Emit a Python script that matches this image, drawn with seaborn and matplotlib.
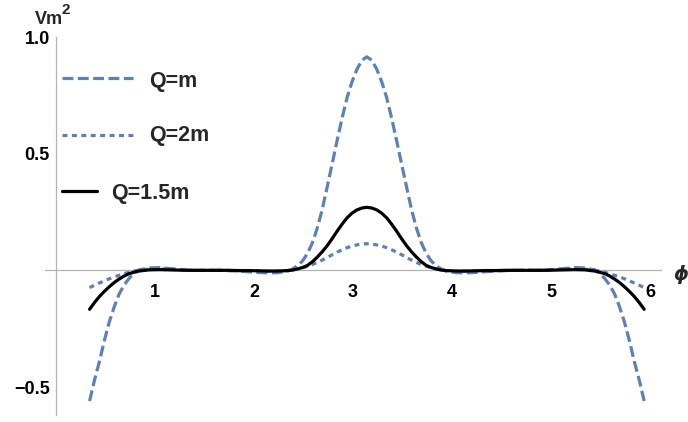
import matplotlib
matplotlib.use("Agg")
import matplotlib.pyplot as plt
from matplotlib.lines import Line2D
from matplotlib.ticker import FixedLocator, MultipleLocator
import numpy as np
import pandas as pd
import seaborn as sns

# ---------------- data ----------------
phi = [0.34, 0.39, 0.44, 0.49, 0.54, 0.59, 0.64, 0.69, 0.74, 0.79, 0.84,
       0.94, 1.04, 1.14, 1.24, 1.34, 1.44, 1.54, 1.64, 1.74, 1.84, 1.94, 2.04, 2.14, 2.24, 2.34,
       2.39, 2.44, 2.49, 2.54, 2.59, 2.64, 2.69, 2.74, 2.79, 2.84, 2.89, 2.94, 2.99, 3.04, 3.09,
       3.14, 3.19, 3.24, 3.29, 3.34, 3.39, 3.44, 3.49, 3.54, 3.59, 3.64, 3.69, 3.74, 3.79, 3.84, 3.89,
       3.94, 4.04, 4.14, 4.24, 4.34, 4.44, 4.54, 4.64, 4.74, 4.84, 4.94, 5.04, 5.14, 5.24, 5.34,
       5.44, 5.49, 5.54, 5.59, 5.64, 5.69, 5.74, 5.79, 5.84, 5.89, 5.94]

v_q_m = [-0.56, -0.47, -0.39, -0.30, -0.22, -0.155, -0.10, -0.062, -0.034, -0.012, 0.002,
         0.010, 0.012, 0.008, 0.004, 0.001, 0.0, 0.0, 0.0, -0.001, -0.003, -0.006, -0.009, -0.011, -0.010, -0.003,
         0.006, 0.02, 0.04, 0.072, 0.118, 0.182, 0.262, 0.359, 0.457, 0.557, 0.653, 0.74, 0.808, 0.862, 0.900,
         0.915, 0.900, 0.862, 0.808, 0.74, 0.653, 0.557, 0.457, 0.359, 0.262, 0.182, 0.118, 0.072, 0.04, 0.02, 0.006,
         -0.003, -0.010, -0.011, -0.009, -0.006, -0.003, -0.001, 0.0, 0.0, 0.0, 0.001, 0.004, 0.008, 0.012, 0.010,
         0.002, -0.012, -0.034, -0.062, -0.10, -0.155, -0.22, -0.30, -0.39, -0.47, -0.56]

v_q_2m = [-0.074, -0.064, -0.054, -0.045, -0.036, -0.028, -0.021, -0.014, -0.008, -0.003, 0.001,
          0.005, 0.006, 0.005, 0.003, 0.001, 0.0, 0.0, 0.0, -0.001, -0.001, -0.002, -0.003, -0.004, -0.004, -0.001,
          0.002, 0.006, 0.011, 0.017, 0.025, 0.034, 0.044, 0.055, 0.067, 0.078, 0.088, 0.097, 0.104, 0.109, 0.113,
          0.114, 0.113, 0.109, 0.104, 0.097, 0.088, 0.078, 0.067, 0.055, 0.044, 0.034, 0.025, 0.017, 0.011, 0.006, 0.002,
          -0.001, -0.004, -0.004, -0.003, -0.002, -0.001, -0.001, 0.0, 0.0, 0.0, 0.001, 0.003, 0.005, 0.006, 0.005,
          0.001, -0.003, -0.008, -0.014, -0.021, -0.028, -0.036, -0.045, -0.054, -0.064, -0.074]

v_q_15m = [-0.167, -0.138, -0.112, -0.09, -0.07, -0.052, -0.037, -0.024, -0.014, -0.008, -0.003,
           0.002, 0.003, 0.002, 0.001, 0.0, 0.0, 0.0, 0.0, 0.0, -0.001, -0.001, -0.002, -0.003, -0.003, -0.001,
           0.001, 0.006, 0.012, 0.021, 0.037, 0.057, 0.08, 0.106, 0.136, 0.168, 0.198, 0.225, 0.245, 0.259, 0.267,
           0.270, 0.267, 0.259, 0.245, 0.225, 0.198, 0.168, 0.136, 0.106, 0.08, 0.057, 0.037, 0.021, 0.012, 0.006, 0.001,
           -0.001, -0.003, -0.003, -0.002, -0.001, -0.001, 0.0, 0.0, 0.0, 0.0, 0.0, 0.001, 0.002, 0.003, 0.002,
           -0.003, -0.008, -0.014, -0.024, -0.037, -0.052, -0.07, -0.09, -0.112, -0.138, -0.167]

series_labels = ["Q=m", "Q=2m", "Q=1.5m"]
x_tick_values = [1, 2, 3, 4, 5, 6]
y_tick_values = [-0.5, 0.5, 1.0]
y_tick_labels = ["\u22120.5", "0.5", "1.0"]
x_axis_label = "\u03d5"
y_axis_label_main = "Vm"
y_axis_label_sup = "2"

# ---------------- style ----------------
sns.set_style("white")
plt.rcParams["font.family"] = ["Liberation Sans", "DejaVu Sans"]
plt.rcParams["font.weight"] = "bold"

blue = "#5E81B5"
axis_gray = "#b3b3b3"
lw = 2.3
dash_style = (0, (3.4, 1.4))
dot_style = (0, (1.55, 1.4))

W, H = 688, 422
fig = plt.figure(figsize=(W / 100, H / 100), dpi=100)
ax = fig.add_axes([45 / W, 7 / H, 616 / W, 378 / H])

df = pd.DataFrame({"phi": phi, "Q=m": v_q_m, "Q=2m": v_q_2m, "Q=1.5m": v_q_15m})

sns.lineplot(data=df, x="phi", y="Q=m", ax=ax, color=blue, linewidth=lw,
             linestyle=dash_style, estimator=None, zorder=3)
sns.lineplot(data=df, x="phi", y="Q=2m", ax=ax, color=blue, linewidth=lw,
             linestyle=dot_style, estimator=None, zorder=3)
sns.lineplot(data=df, x="phi", y="Q=1.5m", ax=ax, color="black", linewidth=lw,
             linestyle="-", estimator=None, zorder=4)

ax.set_xlim(-0.11, 6.11)
ax.set_ylim(-0.62, 1.0)
ax.set_xlabel("")
ax.set_ylabel("")

for s in ["top", "right"]:
    ax.spines[s].set_visible(False)
ax.spines["left"].set_position(("data", 0))
ax.spines["bottom"].set_position(("data", 0))
for s in ["left", "bottom"]:
    ax.spines[s].set_color(axis_gray)
    ax.spines[s].set_linewidth(0.9)
    ax.spines[s].set_zorder(2)

ax.xaxis.set_major_locator(FixedLocator(x_tick_values))
ax.set_xticklabels([str(v) for v in x_tick_values])
ax.xaxis.set_minor_locator(MultipleLocator(0.2))
ax.yaxis.set_major_locator(FixedLocator(y_tick_values))
ax.set_yticklabels(y_tick_labels)
ax.yaxis.set_minor_locator(MultipleLocator(0.1))

ax.tick_params(axis="both", which="both", direction="in", color=axis_gray,
               width=0.9, labelcolor="black")
ax.tick_params(axis="x", which="major", length=4.3, pad=9.5, labelsize=13)
ax.tick_params(axis="x", which="minor", length=3.2)
ax.tick_params(axis="y", which="major", length=4.3, pad=4.5, labelsize=13)
ax.tick_params(axis="y", which="minor", length=3.2)
for lab in ax.get_xticklabels() + ax.get_yticklabels():
    lab.set_fontweight("bold")

ax.grid(False)

# axis labels (Mathematica style)
fig.text(35 / W, 1 - 24 / H, y_axis_label_main, fontsize=13, fontweight="bold",
         ha="left", va="baseline")
fig.text(62 / W, 1 - 14 / H, y_axis_label_sup, fontsize=11, fontweight="bold",
         ha="left", va="baseline")
fig.text(673 / W, 1 - 274 / H, x_axis_label, fontsize=13.5, fontweight="bold",
         style="italic", ha="left", va="center",
         family=["DejaVu Sans"])

# legend (line keys with labels, drawn in figure pixels)
legend_styles = [(blue, dash_style, 62, 133, 78, 149, 86.5),
                 (blue, dot_style, 62, 133, 134.5, 149, 141.5),
                 ("black", "-", 62, 97, 191, 111.5, 199.5)]
for lab, (c, ls, x0, x1, yl, xt, yb) in zip(series_labels, legend_styles):
    fig.add_artist(Line2D([x0 / W, x1 / W], [1 - yl / H, 1 - yl / H],
                          transform=fig.transFigure, color=c, lw=lw, linestyle=ls))
    fig.text(xt / W, 1 - yb / H, lab, fontsize=15.5, fontweight="bold",
             ha="left", va="baseline")

fig.savefig("out.png", dpi=100)
